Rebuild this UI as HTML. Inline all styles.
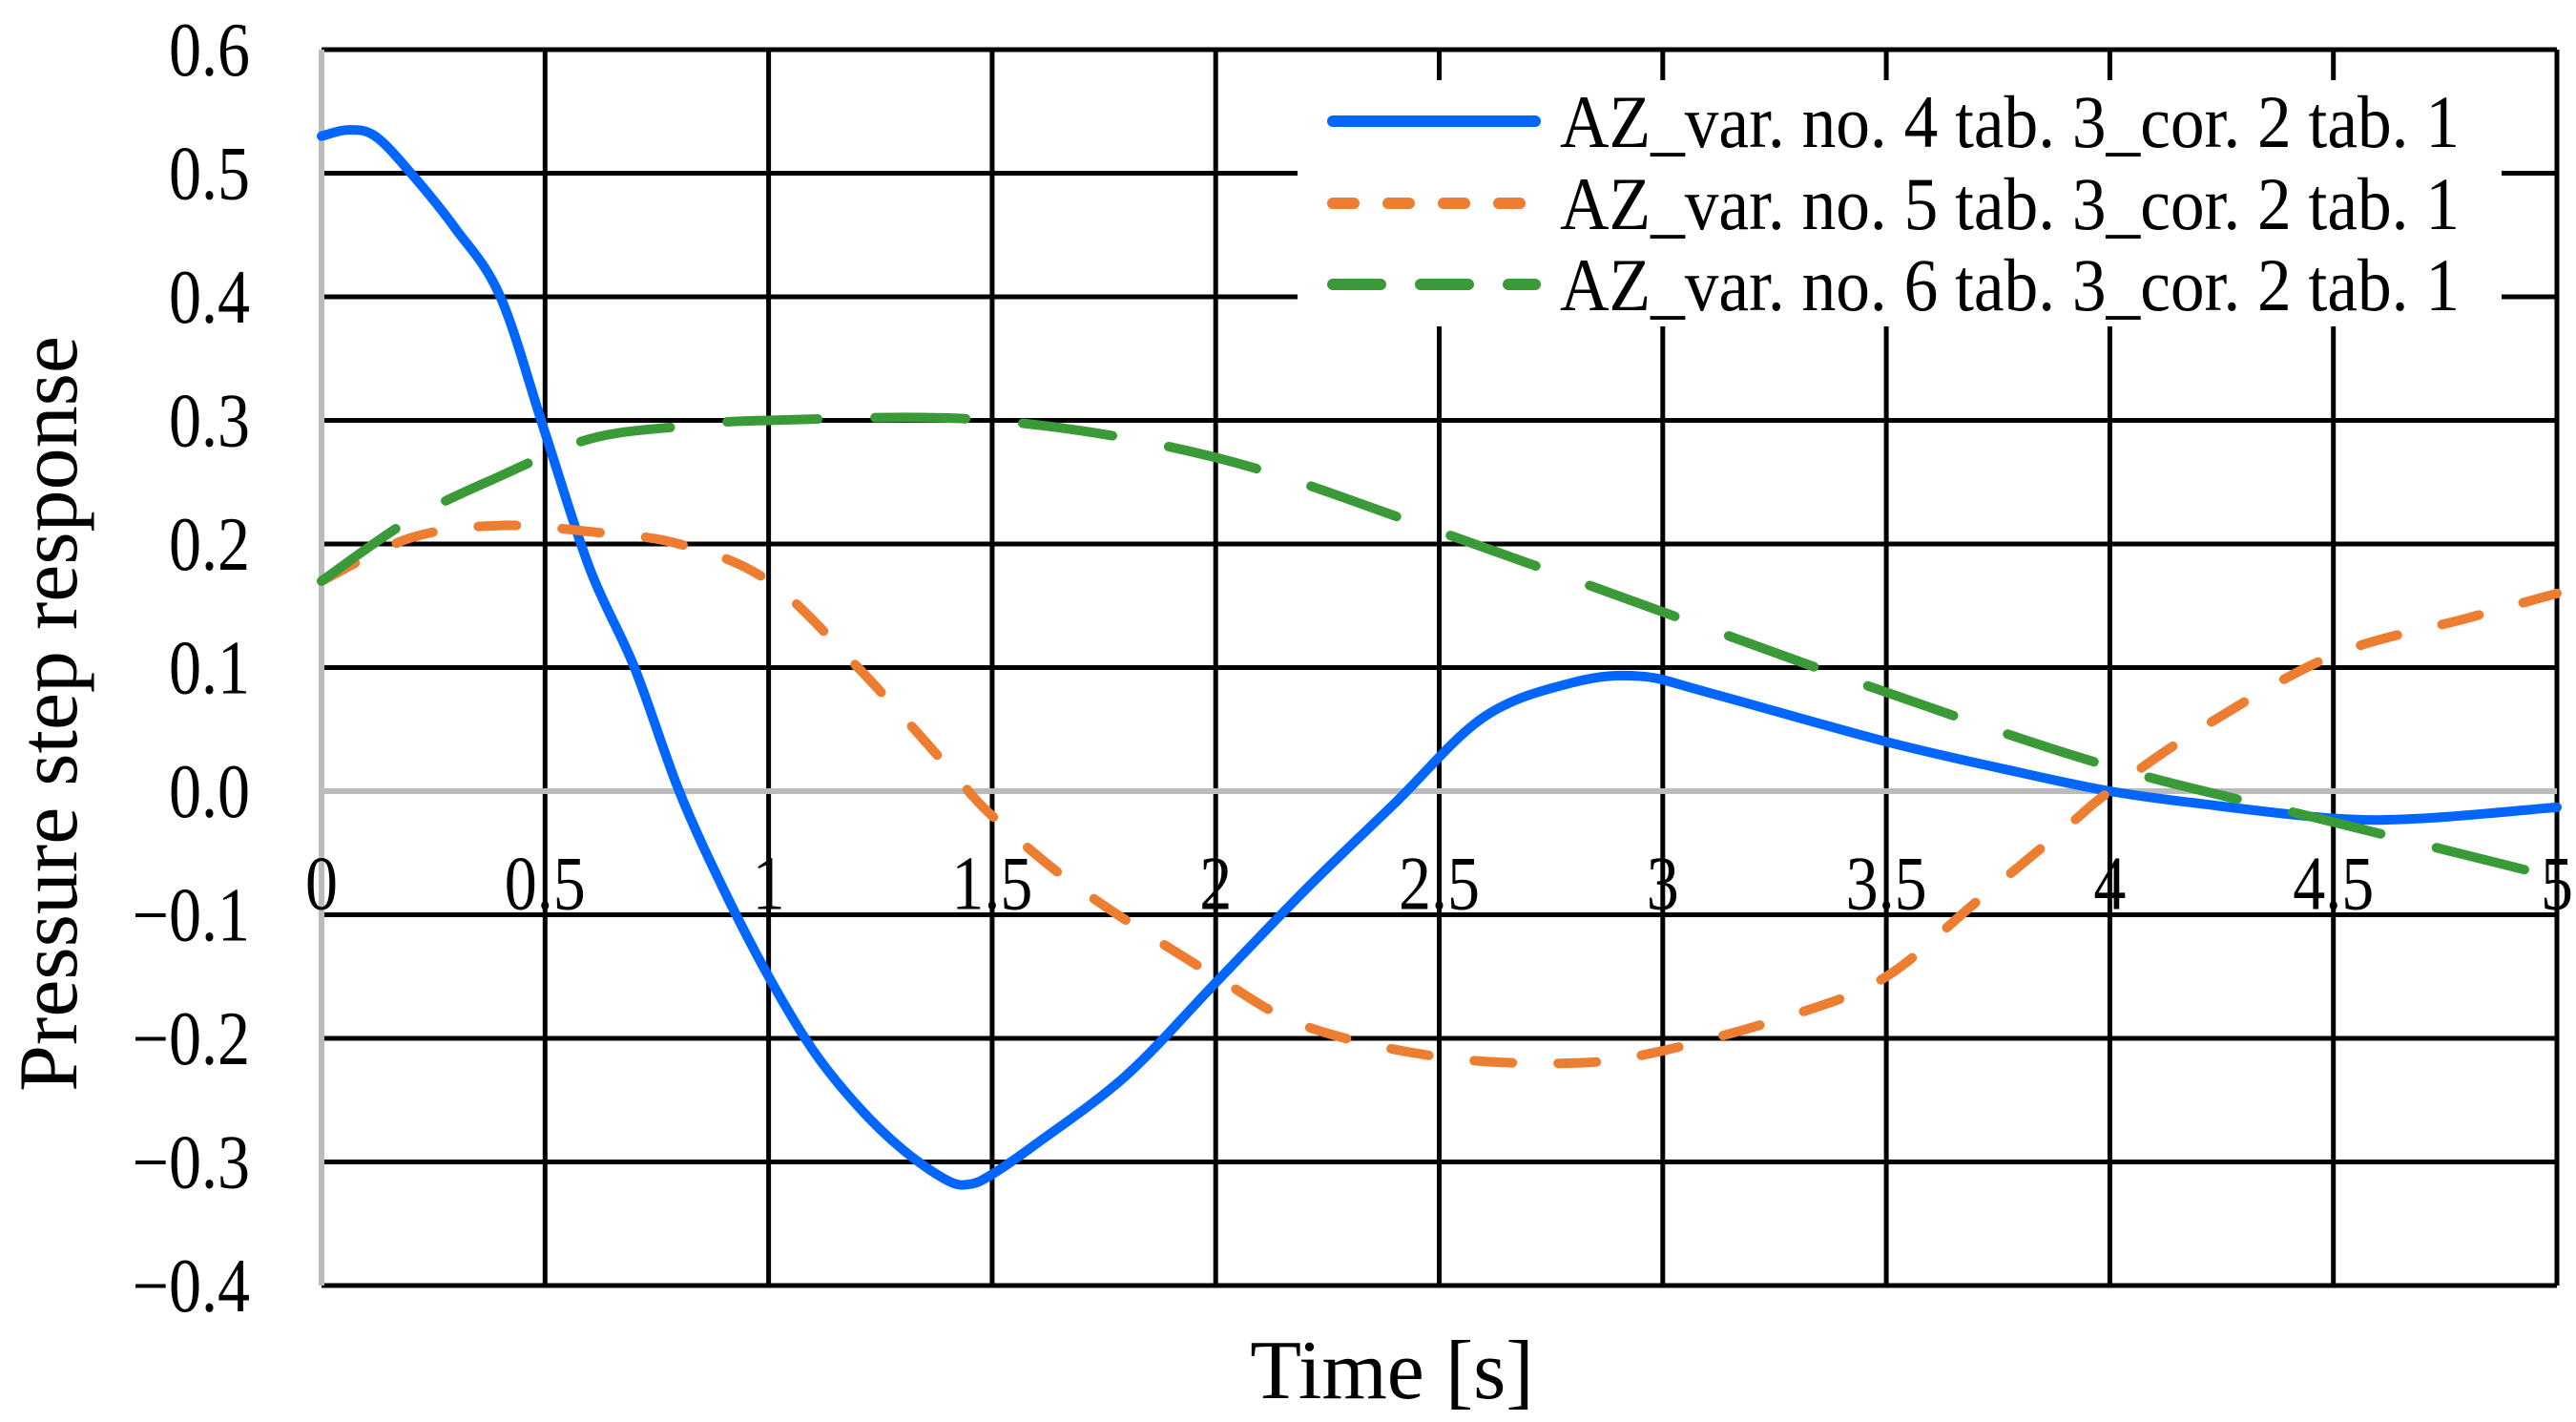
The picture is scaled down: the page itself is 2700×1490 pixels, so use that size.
<!DOCTYPE html>
<html><head><meta charset="utf-8"><style>
html,body{margin:0;padding:0;background:#fff;}
svg{display:block;font-family:"Liberation Serif",serif;}
</style></head><body>
<svg id="chart" width="2700" height="1490" viewBox="0 0 2700 1490">
<g id="grid"></g><g id="series"></g><g id="labels"></g><g id="legend"></g>
</svg>
<script>
const xTicks=[0,0.5,1,1.5,2,2.5,3,3.5,4,4.5,5];
const xTickLabels=["0","0.5","1","1.5","2","2.5","3","3.5","4","4.5","5"];
const yTicks=[0.6,0.5,0.4,0.3,0.2,0.1,0,-0.1,-0.2,-0.3,-0.4];
const yTickLabels=["0.6","0.5","0.4","0.3","0.2","0.1","0.0","\u22120.1","\u22120.2","\u22120.3","\u22120.4"];
const blueT=[0,0.06,0.12,0.2,0.3,0.4,0.5,0.6,0.7,0.8,0.9,1.0,1.1,1.2,1.3,1.4,1.45,1.5,1.6,1.8,2.0,2.2,2.4,2.6,2.8,2.95,3.1,3.5,3.8,4.0,4.2,4.5,4.7,5.0];
const blueV=[0.53,0.535,0.53,0.5,0.455,0.4,0.29,0.18,0.10,0.0,-0.08,-0.15,-0.21,-0.255,-0.29,-0.315,-0.318,-0.31,-0.285,-0.23,-0.155,-0.08,-0.01,0.06,0.088,0.093,0.08,0.04,0.015,0.0,-0.01,-0.022,-0.022,-0.013];
const orangeT=[0,0.2,0.4,0.6,0.8,1.0,1.2,1.4,1.5,1.7,2.0,2.2,2.5,2.8,3.0,3.3,3.5,3.7,3.9,4.0,4.2,4.5,4.8,5.0];
const orangeV=[0.17,0.205,0.215,0.21,0.2,0.17,0.1,0.02,-0.02,-0.08,-0.15,-0.19,-0.215,-0.22,-0.21,-0.18,-0.15,-0.09,-0.03,0.0,0.05,0.11,0.14,0.16];
const greenT=[0,0.2,0.4,0.6,0.8,1.0,1.5,2.0,2.5,3.0,3.5,4.0,4.5,5.0];
const greenV=[0.17,0.22,0.255,0.285,0.295,0.3,0.3,0.27,0.21,0.145,0.08,0.02,-0.025,-0.07];
const legendLabels=["AZ_var. no. 4 tab. 3_cor. 2 tab. 1","AZ_var. no. 5 tab. 3_cor. 2 tab. 1","AZ_var. no. 6 tab. 3_cor. 2 tab. 1"];

const NS="http://www.w3.org/2000/svg";
const X0=337,X1=2680,Ytop=52,Ybot=1347;
const sx=t=>X0+(t-0)/(5-0)*(X1-X0);
const sy=v=>Ytop+(0.6-v)/(1.0)*(Ybot-Ytop);
function mk(tag,attrs,parent){const e=document.createElementNS(NS,tag);for(const k in attrs)e.setAttribute(k,attrs[k]);parent.appendChild(e);return e;}
const grid=document.getElementById('grid'),ser=document.getElementById('series'),lab=document.getElementById('labels'),leg=document.getElementById('legend');
yTicks.forEach((v,i)=>{
  if(v!==0){const l=mk('line',{x1:X0,x2:X1,y1:sy(v),y2:sy(v),stroke:'#000','stroke-width':5},grid);
  
  }
  const t=mk('text',{x:262,y:sy(v)+27,'text-anchor':'end','font-size':80,transform:`translate(262,0) scale(0.85,1) translate(-262,0)`},lab);
  t.textContent=yTickLabels[i];
  
  
});
xTicks.forEach((v,i)=>{
  if(v!==0){const l=mk('line',{x1:sx(v),x2:sx(v),y1:Ytop,y2:Ybot,stroke:'#000','stroke-width':5},grid);
  
  }
});
const ax=mk('line',{x1:X0,x2:X0,y1:Ytop,y2:Ybot,stroke:'#bbb','stroke-width':6},grid);


const zl=mk('line',{x1:X0,x2:X1,y1:sy(0),y2:sy(0),stroke:'#bbb','stroke-width':6},grid);


xTicks.forEach((v,i)=>{
  const x=sx(v);
  const t=mk('text',{x:x,y:sy(-0.1)-6,'text-anchor':'middle','font-size':80,transform:`translate(${x},0) scale(0.85,1) translate(${-x},0)`},lab);
  t.textContent=xTickLabels[i];
  
  
});
function path(T,V){const p=T.map((t,i)=>[sx(t),sy(V[i])]);let d=`M${p[0][0]},${p[0][1]}`;
  for(let i=0;i<p.length-1;i++){const a=p[Math.max(i-1,0)],b=p[i],c=p[i+1],e=p[Math.min(i+2,p.length-1)];
    d+=` C${b[0]+(c[0]-a[0])/6},${b[1]+(c[1]-a[1])/6} ${c[0]-(e[0]-b[0])/6},${c[1]-(e[1]-b[1])/6} ${c[0]},${c[1]}`;}return d;}
const styles=[['#0066ff',''],['#ed7d31','40 48'],['#3a9a37','95 60']];
[[blueT,blueV,'blue-series'],[orangeT,orangeV,'orange-series'],[greenT,greenV,'green-series']].forEach((s,i)=>{
  const a={d:path(s[0],s[1]),fill:'none',stroke:styles[i][0],'stroke-width':10,'stroke-linecap':'round','stroke-linejoin':'round'};
  if(styles[i][1])a['stroke-dasharray']=styles[i][1];
  const el=mk('path',a,ser);
  
  
});
const bg=mk('rect',{x:1360,y:84,width:1262,height:258,fill:'#fff'},leg);


const ly=[127,213,298],ld=[['#0066ff','none'],['#ed7d31','22 36'],['#3a9a37','50 42']];
legendLabels.forEach((s,i)=>{
  const a={x1:1397,x2:1609,y1:ly[i],y2:ly[i],stroke:ld[i][0],'stroke-width':12,'stroke-linecap':'round'};
  if(ld[i][1]!=='none')a['stroke-dasharray']=ld[i][1];
  const l=mk('line',a,leg);
  
  
  const t=mk('text',{x:1635,y:ly[i]+27,'font-size':78,textLength:943,lengthAdjust:'spacingAndGlyphs'},leg);
  t.textContent=s;
  
  
});
const xt=mk('text',{x:1459,y:1465,'text-anchor':'middle','font-size':88},lab);
xt.textContent='Time [s]';


const yt=mk('text',{x:0,y:0,'text-anchor':'middle','font-size':88,transform:'translate(80,748) rotate(-90)'},lab);
yt.textContent='Pressure step response';


</script>
</body></html>
